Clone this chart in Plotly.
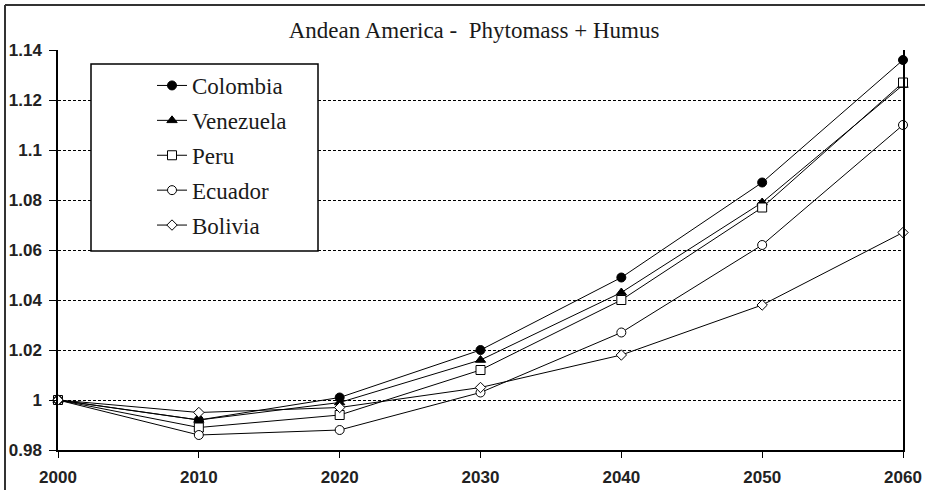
import plotly.graph_objects as go

years = [2000, 2010, 2020, 2030, 2040, 2050, 2060]

colombia = [1.000, 0.992, 1.001, 1.020, 1.049, 1.087, 1.136]
venezuela = [1.000, 0.992, 0.999, 1.016, 1.043, 1.079, 1.126]
peru = [1.000, 0.989, 0.994, 1.012, 1.040, 1.077, 1.127]
ecuador = [1.000, 0.986, 0.988, 1.003, 1.027, 1.062, 1.110]
bolivia = [1.000, 0.995, 0.997, 1.005, 1.018, 1.038, 1.067]

y_ticks = [0.98, 1.0, 1.02, 1.04, 1.06, 1.08, 1.1, 1.12, 1.14]
y_tick_text = ["0.98", "1", "1.02", "1.04", "1.06", "1.08", "1.1", "1.12", "1.14"]

series = [
    ("Colombia", colombia, "circle", "black", 9),
    ("Venezuela", venezuela, "triangle-up", "black", 9),
    ("Peru", peru, "square", "white", 9),
    ("Ecuador", ecuador, "circle", "white", 9),
    ("Bolivia", bolivia, "diamond", "white", 8),
]

fig = go.Figure()
for i, (name, vals, sym, fill, size) in enumerate(series):
    fig.add_trace(go.Scatter(
        x=years, y=vals, name=name, mode="lines+markers",
        line=dict(color="black", width=1),
        marker=dict(symbol=sym, size=size, color=fill,
                    line=dict(color="black", width=1)),
        legendgroup=f"g{i}", cliponaxis=False,
    ))

W, H = 928, 490
L, R, T, B = 58, 25, 50, 40

def px_x(x):
    return (x - L) / (W - L - R)

def px_y(y):
    return 1 - (y - T) / (H - T - B)

serif = "Liberation Serif, Times New Roman, serif"
tick_font = dict(family="Liberation Sans, Arial, sans-serif", size=17,
                 color="#222", weight="bold")

fig.update_layout(
    width=W, height=H,
    margin=dict(l=L, r=R, t=T, b=B),
    paper_bgcolor="white", plot_bgcolor="white",
    title=dict(text="Andean America -  Phytomass + Humus",
               font=dict(family=serif, size=23, color="#1a1a1a"),
               x=474 / W, xanchor="center", y=1 - 30 / H, yanchor="middle"),
    showlegend=True,
    legend=dict(
        x=px_x(152), y=px_y(64), xanchor="left", yanchor="top",
        bgcolor="rgba(0,0,0,0)", borderwidth=0,
        font=dict(family=serif, size=23, color="#1a1a1a"),
        traceorder="grouped", tracegroupgap=2, itemwidth=30,
    ),
    xaxis=dict(
        range=[2000, 2060], tickvals=years,
        showgrid=False, zeroline=False, automargin=False,
        showline=True, linecolor="black", linewidth=1.5,
        ticks="outside", ticklen=6, tickcolor="black", tickwidth=1,
        tickfont=tick_font, ticklabelstandoff=5,
    ),
    yaxis=dict(
        range=[0.98, 1.14], tickvals=y_ticks, ticktext=y_tick_text,
        showgrid=True, gridcolor="black", gridwidth=1, griddash="3px,2px",
        zeroline=False, automargin=False,
        showline=True, linecolor="black", linewidth=1.5, mirror=True,
        ticks="outside", ticklen=7, tickcolor="black", tickwidth=1,
        tickfont=tick_font, ticklabelstandoff=4,
    ),
    shapes=[
        # legend box
        dict(type="rect", xref="paper", yref="paper",
             x0=px_x(91), x1=px_x(318), y0=px_y(64), y1=px_y(251),
             line=dict(color="black", width=1.5), fillcolor="white", layer="above"),
        # outer frame edges
        dict(type="line", xref="paper", yref="paper",
             x0=px_x(5), x1=px_x(925), y0=px_y(5), y1=px_y(5),
             line=dict(color="#333", width=2)),
        dict(type="line", xref="paper", yref="paper",
             x0=px_x(5), x1=px_x(5), y0=px_y(5), y1=px_y(490),
             line=dict(color="#333", width=2)),
    ],
)

fig.write_html("out.html")
